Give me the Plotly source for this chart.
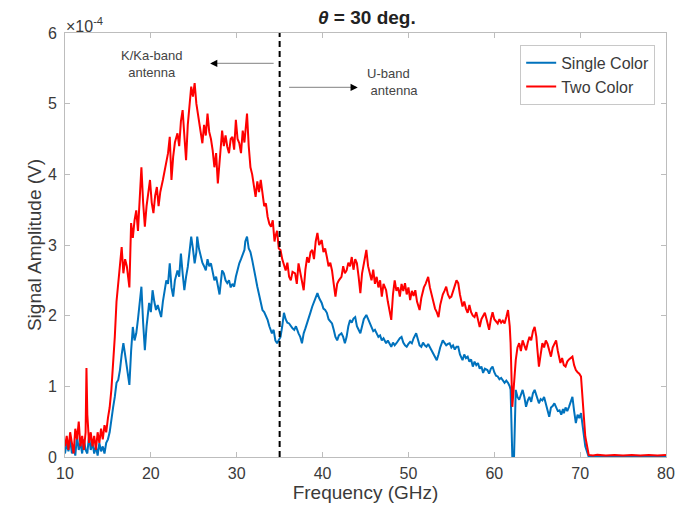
import plotly.graph_objects as go

# ---------------- data (amplitude in units of 1e-4 V) ----------------
two_freq = [10.0,10.2,10.4,10.6,10.8,11.0,11.2,11.4,11.6,11.8,12.0,12.2,12.4,12.5,12.6,12.8,13.0,13.2,13.4,13.6,13.8,14.0,14.2,14.4,14.6,14.8,15.0,15.2,15.4,15.6,15.8,16.0,16.2,16.4,16.6,16.8,17.0,17.2,17.4,17.5,17.7,17.9,18.1,18.3,18.5,18.7,18.9,19.1,19.3,19.5,19.7,19.9,20.1,20.3,20.5,20.7,20.9,21.1,21.4,21.6,21.8,22.0,22.2,22.4,22.6,22.8,23.1,23.3,23.5,23.7,23.9,24.1,24.3,24.5,24.7,24.9,25.1,25.3,25.6,25.8,26.0,26.2,26.4,26.6,26.8,27.0,27.2,27.4,27.6,27.8,28.0,28.3,28.5,28.7,28.9,29.1,29.3,29.5,29.7,29.9,30.1,30.3,30.5,30.7,30.9,31.2,31.4,31.6,31.8,32.0,32.2,32.4,32.6,32.8,33.0,33.2,33.4,33.6,33.8,34.0,34.2,34.4,34.5,34.7,34.9,35.1,35.3,35.5,35.7,35.9,36.1,36.3,36.5,36.8,37.0,37.2,37.4,37.6,37.8,38.0,38.2,38.4,38.6,38.8,39.0,39.2,39.4,39.6,39.9,40.1,40.3,40.5,40.7,40.9,41.1,41.3,41.5,41.7,41.9,42.2,42.4,42.6,42.8,43.0,43.2,43.4,43.6,43.8,44.0,44.2,44.4,44.6,44.8,45.1,45.3,45.5,45.7,45.9,46.1,46.3,46.5,46.7,46.9,47.1,47.4,47.6,47.8,48.0,48.2,48.4,48.6,48.8,49.0,49.2,49.4,49.6,49.8,50.0,50.2,50.4,50.6,50.8,51.0,51.3,51.5,51.8,52.0,52.3,52.5,52.7,52.9,53.1,53.3,53.5,53.7,54.0,54.2,54.4,54.6,54.8,55.0,55.2,55.4,55.6,55.8,56.0,56.3,56.5,56.7,56.9,57.1,57.3,57.5,57.7,57.9,58.1,58.3,58.5,58.7,58.9,59.1,59.4,59.6,59.8,60.0,60.2,60.4,60.6,60.8,61.0,61.2,61.4,61.6,61.8,61.9,62.1,62.3,62.5,62.7,62.9,63.1,63.3,63.5,63.7,63.9,64.1,64.3,64.5,64.7,64.9,65.0,65.2,65.4,65.6,65.8,66.0,66.2,66.4,66.6,66.8,67.0,67.2,67.4,67.7,67.9,68.1,68.3,68.5,68.7,68.9,69.1,69.3,69.5,69.7,69.9,70.1,70.3,70.6,71.0,71.5,72.0,73.0,74.0,75.0,76.0,77.0,78.0,79.0,80.0]
two_amp = [0.15,0.30,0.10,0.35,0.20,0.05,0.40,0.25,0.50,0.15,0.30,0.10,0.35,1.26,0.60,0.20,0.35,0.15,0.30,0.10,0.35,0.20,0.40,0.25,0.45,0.35,0.55,0.70,0.95,1.28,1.70,2.20,2.45,2.70,2.97,2.60,2.80,2.70,2.46,2.40,3.31,3.10,3.35,3.49,3.20,3.70,4.10,3.60,3.26,3.55,3.75,3.92,3.60,3.45,3.70,3.82,3.55,3.75,3.92,4.05,4.16,4.30,4.53,3.92,4.25,4.45,4.58,4.40,4.75,4.91,4.55,4.20,4.70,5.00,5.24,5.10,5.29,5.00,4.77,4.60,4.44,4.70,4.55,4.86,4.60,4.50,4.34,4.10,4.30,3.87,4.20,4.62,4.40,4.55,4.39,4.30,4.50,4.53,4.35,4.77,4.50,4.44,4.30,4.62,4.45,4.86,4.40,4.10,4.00,3.85,3.68,3.90,3.75,3.92,3.70,3.55,3.59,3.40,3.30,3.26,3.35,3.05,3.12,3.20,2.95,2.93,2.80,2.70,2.64,2.75,2.55,2.50,2.62,2.60,2.45,2.74,2.60,2.50,2.36,2.65,2.83,2.75,2.90,2.93,2.80,3.05,3.17,3.00,3.07,2.90,2.95,2.83,2.70,2.75,2.64,2.45,2.27,2.45,2.50,2.55,2.70,2.60,2.64,2.75,2.70,2.83,2.65,2.80,2.74,2.55,2.32,2.60,2.75,2.93,2.70,2.60,2.50,2.65,2.45,2.55,2.40,2.50,2.27,2.45,2.36,2.20,2.05,1.94,2.30,2.50,2.35,2.40,2.27,2.45,2.35,2.46,2.30,2.40,2.22,2.35,2.28,2.36,2.20,2.08,2.25,2.40,2.45,2.55,2.40,2.30,2.22,2.10,2.05,1.98,2.15,2.30,2.35,2.41,2.30,2.25,2.27,2.35,2.40,2.50,2.46,2.30,2.13,2.20,2.10,2.04,2.15,2.05,2.00,1.98,2.05,1.92,1.84,1.95,2.00,2.04,1.95,1.80,1.95,2.05,1.95,1.92,1.89,1.95,1.90,1.93,1.89,1.98,2.08,1.85,1.61,0.71,1.10,1.37,1.55,1.61,1.50,1.65,1.58,1.51,1.62,1.70,1.65,1.78,1.84,1.70,1.55,1.28,1.45,1.61,1.55,1.65,1.60,1.50,1.42,1.55,1.60,1.65,1.50,1.33,1.40,1.30,1.28,1.35,1.38,1.40,1.42,1.30,1.23,1.20,1.18,1.14,0.80,0.29,0.03,0.02,0.03,0.02,0.03,0.02,0.03,0.02,0.03,0.02,0.03,0.02]

single_freq = [10.0,10.2,10.4,10.6,10.8,11.0,11.2,11.4,11.6,11.8,12.0,12.2,12.4,12.6,12.8,13.0,13.2,13.4,13.6,13.8,14.0,14.2,14.4,14.6,14.8,15.0,15.2,15.4,15.6,15.8,16.0,16.2,16.4,16.6,16.8,17.0,17.1,17.3,17.5,17.7,17.9,18.1,18.3,18.5,18.7,18.9,19.1,19.3,19.5,19.8,20.0,20.2,20.4,20.6,20.8,21.0,21.2,21.4,21.6,21.8,22.0,22.2,22.4,22.6,22.8,23.1,23.3,23.5,23.7,23.9,24.1,24.3,24.5,24.7,24.9,25.1,25.3,25.4,25.6,25.8,26.0,26.2,26.4,26.6,26.8,27.0,27.2,27.4,27.6,27.8,28.0,28.3,28.5,28.7,28.9,29.1,29.3,29.5,29.7,29.9,30.1,30.3,30.5,30.7,30.9,31.0,31.2,31.4,31.6,31.8,32.0,32.2,32.4,32.6,32.8,33.0,33.2,33.4,33.6,33.8,34.1,34.3,34.5,34.7,34.9,35.1,35.3,35.5,35.7,35.9,36.1,36.3,36.5,36.7,36.9,37.2,37.4,37.6,37.8,38.0,38.2,38.4,38.6,38.8,39.0,39.2,39.4,39.6,39.9,40.1,40.3,40.5,40.7,40.9,41.1,41.3,41.5,41.7,41.9,42.2,42.4,42.6,42.8,43.0,43.2,43.4,43.6,43.8,44.0,44.2,44.4,44.6,44.8,45.1,45.3,45.5,45.7,45.9,46.1,46.3,46.5,46.7,46.9,47.1,47.4,47.6,47.8,48.0,48.2,48.4,48.6,48.8,49.0,49.2,49.4,49.6,49.8,50.0,50.2,50.4,50.6,50.9,51.1,51.3,51.5,51.7,51.9,52.1,52.3,52.5,52.7,52.9,53.1,53.3,53.5,53.7,54.0,54.2,54.4,54.6,54.8,55.0,55.2,55.4,55.6,55.8,56.0,56.3,56.5,56.7,56.9,57.1,57.3,57.5,57.7,57.9,58.1,58.3,58.5,58.7,58.9,59.2,59.4,59.6,59.8,60.0,60.2,60.4,60.6,60.8,61.0,61.2,61.4,61.6,61.8,61.9,62.1,62.3,62.5,62.7,62.9,63.1,63.3,63.5,63.7,63.9,64.1,64.3,64.5,64.7,64.9,65.2,65.4,65.6,65.8,66.0,66.2,66.4,66.6,66.8,67.0,67.2,67.4,67.6,67.8,68.0,68.1,68.3,68.5,68.7,68.9,69.1,69.3,69.5,69.7,69.9,70.1,70.3,70.6,71.0,72.0,74.0,76.0,78.0,80.0]
single_amp = [0.05,0.20,0.08,0.25,0.05,0.15,0.02,0.30,0.10,0.20,0.05,0.25,0.10,0.05,0.30,0.10,0.20,0.05,0.15,0.02,0.20,0.08,0.15,0.05,0.20,0.25,0.35,0.55,0.70,0.85,1.05,1.09,1.23,1.45,1.61,1.45,1.37,1.20,1.02,1.50,1.84,1.65,1.75,1.95,2.20,2.41,1.90,1.51,1.85,2.18,2.05,2.36,2.20,2.08,2.15,2.05,1.98,2.20,2.35,2.50,2.45,2.74,2.40,2.27,2.50,2.64,2.55,2.88,2.60,2.36,2.55,2.69,2.90,3.12,2.95,2.74,2.90,3.12,2.95,2.83,2.75,2.70,2.64,2.80,2.70,2.74,2.60,2.50,2.55,2.40,2.30,2.64,2.60,2.50,2.46,2.50,2.40,2.45,2.41,2.55,2.65,2.74,2.80,2.88,2.93,3.05,3.12,2.95,2.90,2.79,2.65,2.55,2.41,2.30,2.20,2.08,2.05,2.00,1.94,1.85,1.75,1.80,1.65,1.61,1.65,1.70,1.85,2.04,1.95,1.90,1.89,1.85,1.82,1.80,1.85,1.75,1.70,1.61,1.75,1.82,1.89,1.95,2.05,2.13,2.20,2.25,2.32,2.25,2.18,2.10,2.08,2.04,1.95,1.92,1.89,1.80,1.70,1.65,1.72,1.75,1.70,1.61,1.70,1.85,1.94,1.90,1.96,1.98,1.85,1.80,1.75,1.85,1.95,2.01,1.95,1.90,1.84,1.78,1.80,1.75,1.70,1.72,1.65,1.68,1.61,1.65,1.60,1.56,1.62,1.58,1.61,1.65,1.68,1.70,1.62,1.58,1.56,1.60,1.63,1.61,1.68,1.75,1.65,1.58,1.56,1.62,1.58,1.56,1.60,1.55,1.51,1.45,1.42,1.37,1.45,1.55,1.65,1.62,1.58,1.60,1.61,1.55,1.58,1.52,1.56,1.56,1.45,1.37,1.45,1.40,1.42,1.35,1.38,1.28,1.35,1.30,1.33,1.25,1.28,1.19,1.25,1.23,1.18,1.25,1.28,1.20,1.15,1.14,1.10,1.12,1.09,1.05,1.08,1.05,1.00,0.95,0.00,0.00,0.95,0.85,0.81,0.90,0.95,0.85,0.71,0.80,0.85,0.78,0.90,0.95,0.88,0.76,0.82,0.80,0.85,0.75,0.65,0.57,0.70,0.72,0.76,0.70,0.65,0.66,0.60,0.68,0.62,0.70,0.65,0.71,0.78,0.85,0.65,0.48,0.60,0.55,0.62,0.45,0.15,0.00,0.01,0.00,0.01,0.00,0.01]

x_ticks = [10, 20, 30, 40, 50, 60, 70, 80]
y_ticks = [0, 1, 2, 3, 4, 5, 6]
divider_freq = 35

FONT = "Liberation Sans, Arial, Helvetica, sans-serif"
AX_COL = "#bdbdbd"
TXT_COL = "#3a3a3a"

fig = go.Figure()
fig.add_trace(go.Scatter(x=single_freq, y=single_amp, mode="lines", name="Single Color",
                         line=dict(color="#0072BD", width=2)))
fig.add_trace(go.Scatter(x=two_freq, y=two_amp, mode="lines", name="Two Color",
                         line=dict(color="#FF0000", width=2)))

# dashed divider
fig.add_shape(type="line", x0=divider_freq, x1=divider_freq, y0=0, y1=6,
              xref="x", yref="y", line=dict(color="black", width=2, dash="6px,4px"))

# arrows (gray shaft, black head)
fig.add_shape(type="line", x0=34.3, x1=27.2, y0=5.57, y1=5.57, xref="x", yref="y",
              line=dict(color="#9a9a9a", width=1.2))
fig.add_annotation(x=26.9, y=5.57, ax=8, ay=0, xref="x", yref="y", text="", showarrow=True,
                   arrowhead=2, arrowsize=1.2, arrowwidth=1.2, arrowcolor="black")
fig.add_shape(type="line", x0=36.1, x1=43.8, y0=5.23, y1=5.23, xref="x", yref="y",
              line=dict(color="#9a9a9a", width=1.2))
fig.add_annotation(x=44.1, y=5.23, ax=-8, ay=0, xref="x", yref="y", text="", showarrow=True,
                   arrowhead=2, arrowsize=1.2, arrowwidth=1.2, arrowcolor="black")

fig.add_annotation(x=20.1, y=5.56, xref="x", yref="y", text="K/Ka-band<br>antenna",
                   showarrow=False, font=dict(family=FONT, size=13, color="#444"), align="center")
fig.add_annotation(x=44.9, y=5.3, xref="x", yref="y", text="U-band<br>&nbsp;antenna",
                   showarrow=False, font=dict(family=FONT, size=13, color="#444"),
                   xanchor="left", align="left")

# exponent label
fig.add_annotation(x=0, y=1.0, xref="paper", yref="paper", xanchor="left", yanchor="bottom",
                   text="×10<sup>-4</sup>", showarrow=False,
                   font=dict(family=FONT, size=16, color=TXT_COL), xshift=-1, yshift=-4)

fig.update_layout(
    width=687, height=517,
    margin=dict(l=65, r=18, t=33, b=60),
    paper_bgcolor="white", plot_bgcolor="white",
    font=dict(family=FONT, size=16, color=TXT_COL),
    title=dict(text="<i>θ</i> = 30 deg.", x=0.534, xanchor="center", y=0.967, yanchor="middle",
               font=dict(family=FONT, size=19, color="#222", weight="bold")),
    showlegend=True,
    legend=dict(x=0.982, y=0.972, xanchor="right", yanchor="top",
                bgcolor="white", bordercolor="#c8c8c8", borderwidth=1,
                font=dict(family=FONT, size=16, color=TXT_COL),
                itemwidth=30, tracegroupgap=0),
)
fig.update_xaxes(range=[10, 80], tickvals=x_ticks, ticks="inside", ticklen=5, tickcolor=AX_COL,
                 showline=True, linecolor=AX_COL, linewidth=1, mirror="ticks",
                 showgrid=False, zeroline=False, tickfont=dict(size=16), ticklabelstandoff=2,
                 title=dict(text="Frequency (GHz)", font=dict(size=19, color="#3a3a3a"), standoff=2))
fig.update_yaxes(range=[0, 6], tickvals=y_ticks, ticks="inside", ticklen=5, tickcolor=AX_COL,
                 showline=True, linecolor=AX_COL, linewidth=1, mirror="ticks",
                 showgrid=False, zeroline=False, tickfont=dict(size=16), ticklabelstandoff=4,
                 title=dict(text="Signal Amplitude (V)", font=dict(size=19, color="#3a3a3a"), standoff=1))

fig.write_html("out.html")
